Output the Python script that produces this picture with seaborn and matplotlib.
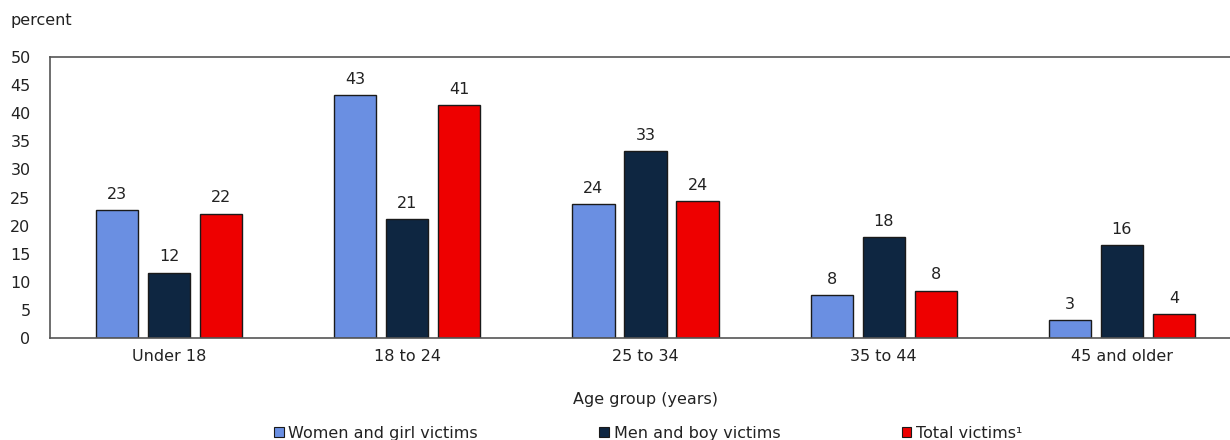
import matplotlib
matplotlib.use("Agg")
import matplotlib.pyplot as plt
import seaborn as sns
import pandas as pd
from matplotlib.patches import Patch

categories = ["Under 18", "18 to 24", "25 to 34", "35 to 44", "45 and older"]
women = [22.8, 43.2, 23.8, 7.6, 3.2]
men = [11.6, 21.2, 33.3, 18.0, 16.5]
total = [22.1, 41.4, 24.4, 8.4, 4.3]
series_names = ["Women and girl victims", "Men and boy victims", "Total victims¹"]
colors = ["#6A8FE2", "#0E2641", "#EE0000"]

rows = []
for name, vals in zip(series_names, [women, men, total]):
    for c, v in zip(categories, vals):
        rows.append({"Age": c, "Series": name, "Value": v})
df = pd.DataFrame(rows)

FS = 11.5
sns.set_theme(style="white")
plt.rcParams["font.family"] = ["DejaVu Sans"]
fig = plt.figure(figsize=(12.3, 4.4), dpi=100)
ax = fig.add_axes([50/1230, 1-338/440, 1191/1230, 281/440])

sns.barplot(data=df, x="Age", y="Value", hue="Series", order=categories,
            hue_order=series_names, palette=colors, width=0.655, gap=0.19,
            edgecolor="#1a1a1a", linewidth=1.0, saturation=1, ax=ax, legend=False)

for cont in ax.containers:
    ax.bar_label(cont, labels=[f"{v:.0f}" for v in cont.datavalues], padding=6,
                 fontsize=FS, color="#222222")

ax.set_ylim(0, 50)
ax.set_xlim(-0.5, 4.5)
ax.set_yticks(range(0, 51, 5))
ax.tick_params(axis="both", length=0, labelsize=FS, colors="#222222")
ax.tick_params(axis="y", pad=14)
ax.tick_params(axis="x", pad=8)
ax.set_ylabel("")
ax.set_xlabel("Age group (years)", fontsize=FS, color="#222222", labelpad=20)
for s in ax.spines.values():
    s.set_color("#555555")
    s.set_linewidth(1.2)

fig.text(10/1230, 1-20/440, "percent", fontsize=FS, color="#222222", va="center")

handles = [Patch(facecolor=c, edgecolor="#1a1a1a", linewidth=0.8) for c in colors]
fig.legend(handles, series_names, loc="center", bbox_to_anchor=(0.527, 1-433/440),
           ncol=3, frameon=False, fontsize=FS, handlelength=0.6, handleheight=0.6,
           handletextpad=0.3, columnspacing=7.6, labelcolor="#222222")

fig.savefig("out.png", dpi=100)
